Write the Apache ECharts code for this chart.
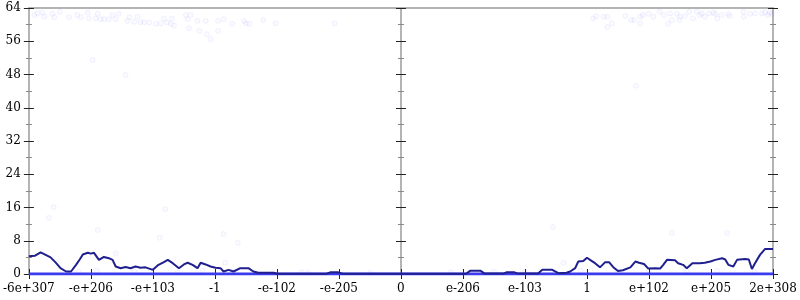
<!DOCTYPE html>
<html><head><meta charset="utf-8">
<script src="https://cdn.jsdelivr.net/npm/echarts@6/dist/echarts.min.js"></script>
<style>html,body{margin:0;padding:0;background:#fff}#c{width:800px;height:300px}</style>
</head><body><div id="c"></div>
<script>
// tick labels for the 13 evenly spaced x positions (-6 .. 6)
var xTickLabels = ['-6e+307','-e+206','-e+103','-1','-e-102','-e-205','0','e-206','e-103','1','e+102','e+205','2e+308'];
var yTicks = [0, 8, 16, 24, 32, 40, 48, 56, 64];

// dark trend line: [position, value]
var trendX = [-6.00,-5.90,-5.81,-5.73,-5.65,-5.57,-5.49,-5.40,-5.32,-5.24,-5.18,-5.13,-5.05,-5.00,-4.95,-4.87,-4.79,-4.71,-4.65,-4.60,-4.52,-4.44,-4.36,-4.28,-4.20,-4.12,-4.00,-3.91,-3.83,-3.76,-3.68,-3.58,-3.50,-3.44,-3.36,-3.28,-3.23,-3.15,-3.07,-2.99,-2.91,-2.86,-2.78,-2.70,-2.59,-2.46,-2.38,-2.30,-2.05,-2.00,-1.20,-1.14,-1.01,-0.94,1.05,1.12,1.28,1.35,1.65,1.70,1.83,1.89,2.21,2.28,2.44,2.54,2.67,2.73,2.81,2.86,2.94,3.00,3.08,3.13,3.21,3.29,3.36,3.42,3.50,3.58,3.70,3.78,3.84,3.92,3.99,4.10,4.18,4.23,4.29,4.42,4.47,4.55,4.61,4.70,4.82,4.90,4.99,5.07,5.18,5.23,5.28,5.36,5.42,5.55,5.61,5.66,5.71,5.79,5.87,6.00];
var trendY = [4.3,4.4,5.2,4.6,4.0,2.8,1.4,0.6,0.6,2.2,3.5,4.7,5.1,4.9,5.1,3.4,4.1,3.8,3.4,1.8,1.4,1.7,1.4,1.8,1.5,1.6,1.0,2.2,2.8,3.4,2.6,1.4,2.3,2.7,2.2,1.4,2.7,2.3,1.8,1.5,1.4,0.6,1.0,0.6,1.4,1.4,0.6,0.3,0.3,0.05,0.05,0.4,0.4,0.05,0.05,0.8,0.8,0.1,0.1,0.4,0.4,0.1,0.1,1.0,1.0,0.2,0.3,0.6,1.4,3.0,3.1,3.9,3.1,2.6,1.6,2.8,2.8,1.7,0.7,0.9,1.6,3.0,2.7,2.4,1.3,1.4,1.3,2.2,3.4,3.3,2.6,2.2,1.4,2.6,2.6,2.7,3.0,3.4,3.8,3.5,2.2,1.8,3.4,3.6,3.5,1.2,2.6,4.6,6.0,6.0];

// faint scatter of individual samples
var sampleX = [-5.91,-5.86,-5.75,-5.78,-5.62,-5.59,-5.50,-5.35,-5.22,-5.16,-5.05,-5.03,-4.89,-4.92,-4.84,-4.79,-4.71,-4.65,-4.60,-4.55,-4.41,-4.38,-4.25,-4.30,-4.20,-4.14,-4.06,-3.95,-3.87,-3.82,-3.77,-3.71,-3.66,-3.69,-3.47,-3.44,-3.39,-3.28,-3.42,-3.25,-4.97,-4.44,
 -3.15,-3.13,-3.07,-2.95,-2.95,-2.86,-2.72,-2.53,-2.50,-2.44,-2.22,-2.02,-1.07,
 3.10,3.15,3.27,3.33,3.40,3.33,3.62,3.71,3.76,3.86,3.90,3.86,3.99,4.07,4.17,4.24,4.31,4.34,4.37,4.45,4.50,4.49,4.58,4.65,4.71,4.77,4.82,4.85,4.90,4.97,5.04,5.07,5.10,5.17,5.28,5.30,5.52,5.53,5.63,5.71,5.82,5.87,5.92,5.95,5.98,3.79,
 -5.60,-5.68,-4.89,-4.60,-3.80,-3.89,-2.86,-2.63,-2.83,2.45,2.62,4.37,5.26,
 -5.2,-4.9,-4.3,-3.6,-3.2,-2.7,-1.6,-1.5,-0.5,0.8,1.5,2.0,2.9,3.5,4.0,4.6,5.1,5.7];
var sampleY = [62.3,62.7,61.9,62.9,62.6,61.8,63.1,61.8,62.3,61.8,62.9,61.5,62.6,61.5,61.3,61.3,61.3,62.3,61.3,62.6,60.9,61.8,61.9,60.7,60.6,60.6,60.5,60.2,60.3,61.5,60.5,60.2,59.8,61.5,62.3,61.3,62.3,60.9,59.1,58.5,51.5,47.9,
 60.9,57.7,56.5,60.9,58.5,61.3,60.2,60.9,60.3,60.2,61.1,60.3,60.3,
 61.5,62.0,61.9,61.9,60.3,59.4,62.1,61.1,61.1,61.9,62.3,60.3,62.6,61.9,63.1,62.3,60.2,62.7,61.1,62.6,61.9,61.1,62.1,63.1,61.5,63.1,62.3,62.7,61.9,62.7,62.9,62.6,61.5,62.3,62.6,62.1,63.1,61.9,62.6,62.7,62.7,62.9,62.3,62.9,62.6,45.3,
 16.1,13.5,10.6,5.0,15.6,8.7,9.6,7.5,2.7,11.3,2.7,9.9,9.9,
 0.5,0.8,0.6,0.4,0.7,0.5,0.4,0.3,0.3,0.4,0.5,0.6,0.8,0.6,0.9,0.7,0.8,0.6];
// the dense band of samples at zero
var zeroBandX = [-6, 6];
var zeroBandY = [0, 0];

function pairs(xs, ys){ return xs.map(function(x,i){ return [x, ys[i]]; }); }

var AXIS_GRAY = '#b4b4b4';
var TICK = '#222';
function yAx(pos, inside, labels, onZero){
  return {
    type:'value', min:0, max:64, interval:8, position:pos,
    axisLine:{show:true, onZero:onZero, onZeroAxisIndex:0, lineStyle:{color:AXIS_GRAY, width:2}},
    axisTick:{show:true, inside:inside, length:5, lineStyle:{color:TICK, width:1}},
    minorTick:{show:true, splitNumber:2, length:3, lineStyle:{color:'#888', width:1}},
    axisLabel:{show:labels, color:'#000', fontFamily:'DejaVu Serif', fontSize:12, margin:8,
      formatter:function(v){ return yTicks.indexOf(v) >= 0 ? String(v) : ''; }},
    splitLine:{show:false}
  };
}
function xAx(pos, inside, labels, showTicks){
  return {
    type:'value', min:-6, max:6, interval:1, position:pos,
    axisLine:{show:true, onZero:false, lineStyle:{color:AXIS_GRAY, width:2}},
    axisTick:{show:showTicks, inside:inside, length:5, lineStyle:{color:TICK, width:1}},
    axisLabel:{show:labels, color:'#000', fontFamily:'DejaVu Serif', fontSize:12, margin:9,
      formatter:function(v){ return xTickLabels[Math.round(v)+6]; }},
    splitLine:{show:false}
  };
}

var chart = echarts.init(document.getElementById('c'), null, {renderer:'canvas'});
chart.setOption({
  animation:false,
  grid:{left:28, right:27, top:8, bottom:26, containLabel:false},
  xAxis:[ xAx('bottom', false, true, true), xAx('bottom', true, false, true), xAx('top', false, false, false) ],
  yAxis:[ yAx('left', false, true, false), yAx('left', true, false, false),
          yAx('right', false, false, false), yAx('right', true, false, false),
          yAx('left', false, false, true), yAx('left', true, false, true) ],
  series:[
    {type:'line', data:pairs(zeroBandX, zeroBandY), showSymbol:false, symbol:'none',
     lineStyle:{color:'#3a3aee', width:3}, z:2},
    {type:'scatter', data:pairs(sampleX, sampleY), symbolSize:5,
     itemStyle:{color:'rgba(60,60,255,0.03)', borderColor:'rgba(60,60,255,0.08)', borderWidth:1}, z:3},
    {type:'line', data:pairs(trendX, trendY), showSymbol:false, symbol:'none',
     lineStyle:{color:'#1f1f8f', width:2}, z:4}
  ]
});
</script></body></html>
